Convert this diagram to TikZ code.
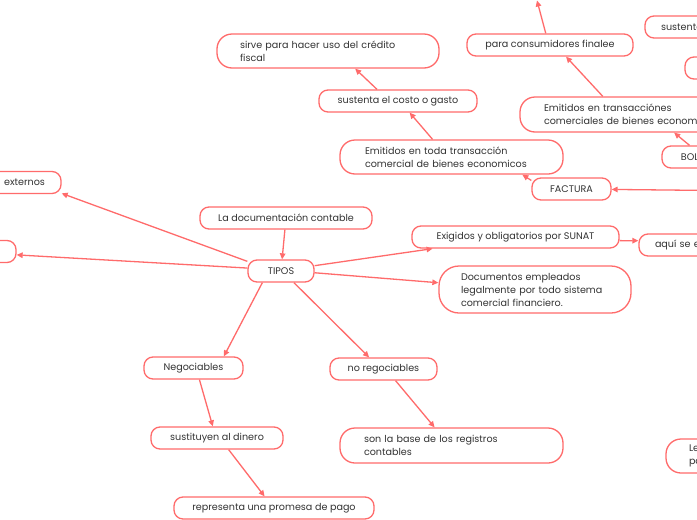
\documentclass[tikz,border=0pt]{standalone}
\usepackage{fontspec}
\setmainfont{Poppins}
\usepackage{tikz}
\usetikzlibrary{arrows.meta,positioning}
\definecolor{mapred}{HTML}{FF6B6B}
\definecolor{maptext}{HTML}{333333}

\begin{document}
\begin{tikzpicture}[
        x=1pt, y=-1pt,
        >={Stealth[length=6pt,width=5.5pt,inset=0pt]},
        box/.style={draw=mapred, line width=1.3pt, rounded corners=9pt, fill=white, text=maptext, minimum height=22pt, inner sep=0pt, align=center, font=\fontsize{9.6}{13}\selectfont},
        wide/.style={box, rounded corners=15pt, align=left},
        link/.style={->, draw=mapred, line width=1.3pt}
    ]

    \clip (0,0) rectangle (697,520);
    \fill[white] (0,0) rectangle (697,520);

    % Nodes
    \node (tipos)[box, minimum width=66pt] at (281,271) {TIPOS};
    \node (ladoc)[box, minimum width=172pt] at (286,218) {La documentación contable};

    \node (ext)[box, minimum width=122pt, text width=90pt, align=right] at (0,182.5) {externos};
    \node (lbox)[box, minimum width=76pt] at (-22,251.5) {};

    \node (sirve)[wide, minimum width=222pt, minimum height=34pt, text width=176pt] at (328,51)
        {sirve para hacer uso del crédito\\ fiscal};
    \node (costo)[box, minimum width=158pt] at (398,101) {sustenta el costo o gasto};
    \node (toda)[wide, minimum width=223pt, minimum height=34pt, text width=173pt] at (451.5,157)
        {Emitidos en toda transacción\\ comercial de bienes economicos};
    \node (factura)[box, minimum width=79pt] at (571.5,189) {FACTURA};

    \node (consum)[box, minimum width=166pt] at (550,45) {para consumidores finalee};
    \node (sustR)[box, align=left, minimum width=155pt, text width=123pt] at (722.5,27) {sustenta};
    \node (smallR)[box, minimum width=115pt] at (742.5,68) {};
    \node (emit2)[wide, minimum width=240pt, minimum height=35pt, text width=192pt] at (640,114.5)
        {Emitidos en transacciónes\\ comerciales de bienes economicos};
    \node (bol)[box, minimum width=72pt] at (698,157) {BOLETA};

    \node (exig)[box, minimum width=207pt] at (515.5,237) {Exigidos y obligatorios por SUNAT};
    \node (aqui)[box, align=left, minimum width=162pt, text width=130pt] at (720,245) {aquí se emiten};
    \node (docs)[wide, rounded corners=20pt, minimum width=192pt, minimum height=47pt, text width=148pt] at (535,289.5)
        {Documentos empleados\\ legalmente por todo sistema\\ comercial financiero.};

    \node (neg)[box, minimum width=99pt] at (193.5,368) {Negociables};
    \node (sustit)[box, minimum width=132pt] at (217,438) {sustituyen al dinero};
    \node (prom)[box, minimum width=200pt] at (274,508) {representa una promesa de pago};

    \node (noreg)[box, minimum width=107pt] at (383.5,369) {no regociables};
    \node (base)[wide, minimum width=223pt, minimum height=35pt, text width=175pt] at (451.5,445.5)
        {son la base de los registros\\ contables};

    \node (lp)[wide, minimum width=184pt, minimum height=34pt, text width=138pt] at (758,456) {Le\\ pa};

    \coordinate (facsrc) at (760,191);
    \coordinate (consdst) at (537,0.5);

    % Edges
    \draw[link] (ladoc) -- (tipos);
    \draw[link] (tipos.164) -- (ext.-10);
    \draw[link] (tipos.175) -- (lbox.-5);
    \draw[link] (tipos.9) -- (exig.-172);
    \draw[link] (tipos.-3) -- (docs.176);
    \draw[link] (tipos.-148) -- (neg.21);
    \draw[link] (tipos.-42) -- (noreg.141);
    \draw[link] (neg.-63) -- (sustit.110);
    \draw[link] (sustit.-45) -- (prom.129);
    \draw[link] (noreg.-44) -- (base.133);
    \draw[link] (exig.-2) -- (aqui.177);
    \draw[link] (toda.137) -- (costo.-45);
    \draw[link] (costo.151) -- (sirve.-33);
    \draw[link] (factura.168) -- (toda.-14);
    \draw[link] (facsrc) -- (factura);
    \draw[link] (emit2.154) -- (consum.-36);
    \draw[link] (consum.110) -- (consdst);
    \draw[link] (bol.126) -- (emit2.-28);

\end{tikzpicture}
\end{document}
